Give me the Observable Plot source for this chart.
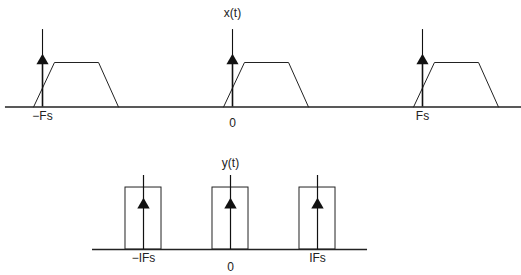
<!DOCTYPE html>
<html><head><meta charset="utf-8">
<script src="https://cdn.jsdelivr.net/npm/d3@7"></script>
<script src="https://cdn.jsdelivr.net/npm/@observablehq/plot@0.6"></script>
<style>
body{margin:0;background:#fff}
#c{width:521px;height:275px;overflow:hidden}
#c svg{display:block;font-family:"Liberation Sans",Arial,sans-serif}
</style>
</head><body><div id="c"></div>
<script>
// ---- top panel: x(t) ----
const topCenters = [-1, 0, 1];
const topLabels = ["−Fs", "0", "Fs"];
const trapOffsets = [-0.047, 0.063, 0.295, 0.4];
const trapLevels = [0, 1, 1, 0];
const topImpulseHeight = 1.74;
const topArrowLevel = 1.04;
const topAxisExtent = [-1.195, 1.5211];
const topTitle = "x(t)";

// ---- bottom panel: y(t) ----
const botCenters = [-1, 0, 1];
const botLabels = ["−IFs", "0", "IFs"];
const botHalfWidth = 0.207;
const botLevel = 1;
const botImpulseHeight = 1.194;
const botArrowLevel = 0.72;
const botAxisExtent = [-1.586, 1.575];
const botTitle = "y(t)";

const ink = "#222";
const font = "Liberation Sans, Arial, sans-serif";

const trap = topCenters.flatMap((c, i) =>
  trapOffsets.map((o, j) => ({x: c + o, y: trapLevels[j], s: i})));
const topTicks = topCenters.map((c, i) => ({x: c, label: topLabels[i]}));

const topPlot = Plot.plot({
  width: 521, height: 135,
  marginTop: 0, marginBottom: 0, marginLeft: 0, marginRight: 0,
  x: {domain: [-1.2211, 1.5211], axis: null},
  y: {domain: [-0.6404, 2.3933], axis: null},
  style: {fontFamily: font},
  marks: [
    Plot.ruleY([0], {x1: topAxisExtent[0], x2: topAxisExtent[1], stroke: ink, strokeWidth: 1.3}),
    Plot.line(trap, {x: "x", y: "y", z: "s", stroke: ink, strokeWidth: 1}),
    Plot.ruleX(topCenters, {y1: 0, y2: topArrowLevel, stroke: "#111", strokeWidth: 1.6}),
    Plot.ruleX(topCenters, {y1: topArrowLevel, y2: topImpulseHeight, stroke: "#111", strokeWidth: 1.1}),
    Plot.dot(topCenters, {x: d => d, y: topArrowLevel, symbol: "triangle", r: 4.5, fill: "#111", stroke: "none"}),
    Plot.text(topTicks.filter(d => d.label !== "0"), {x: "x", y: -0.2, text: "label", fontSize: 12, fill: ink}),
    Plot.text(topTicks.filter(d => d.label === "0"), {x: "x", y: -0.37, text: "label", fontSize: 12, fill: ink}),
    Plot.text([topTitle], {x: 0, y: 2.1, text: d => d, fontSize: 12, fill: ink})
  ]
});

const botTicks = botCenters.map((c, i) => ({x: c, label: botLabels[i]}));

const botPlot = Plot.plot({
  width: 521, height: 140,
  marginTop: 0, marginBottom: 0, marginLeft: 0, marginRight: 0,
  x: {domain: [-2.6437, 3.3448], axis: null},
  y: {domain: [-0.419, 1.839], axis: null},
  style: {fontFamily: font},
  marks: [
    Plot.rect(botCenters, {x1: d => d - botHalfWidth, x2: d => d + botHalfWidth, y1: 0, y2: botLevel, fill: "none", stroke: ink, strokeWidth: 1}),
    Plot.ruleY([0], {x1: botAxisExtent[0], x2: botAxisExtent[1], stroke: ink, strokeWidth: 1.3}),
    Plot.ruleX(botCenters, {y1: 0, y2: botImpulseHeight, stroke: "#111", strokeWidth: 1.2}),
    Plot.dot(botCenters, {x: d => d, y: botArrowLevel, symbol: "triangle", r: 4.6, fill: "#111", stroke: "none"}),
    Plot.text(botTicks.filter(d => d.label !== "0"), {x: "x", y: -0.145, text: "label", fontSize: 12, fill: ink}),
    Plot.text(botTicks.filter(d => d.label === "0"), {x: "x", y: -0.29, text: "label", fontSize: 12, fill: ink}),
    Plot.text([botTitle], {x: 0, y: 1.387, text: d => d, fontSize: 12, fill: ink})
  ]
});

const c = document.getElementById("c");
c.appendChild(topPlot);
c.appendChild(botPlot);
</script>
</body></html>
